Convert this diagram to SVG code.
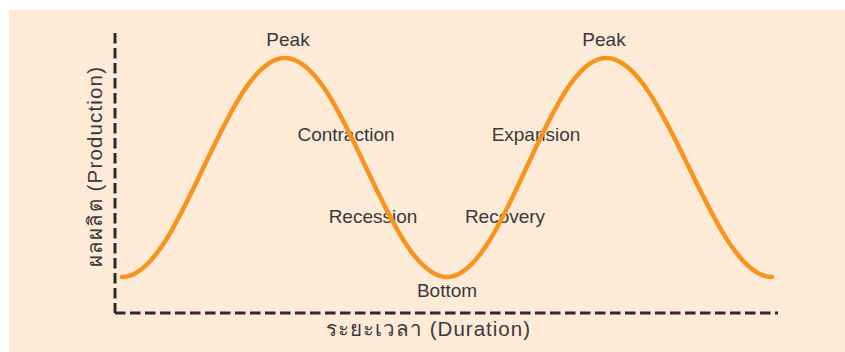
<svg xmlns="http://www.w3.org/2000/svg" width="845" height="352" viewBox="0 0 845 352">
  <style>
    .lbl { font-family: "Liberation Sans", "Noto Sans", sans-serif; font-size: 19px; fill: #3a3a3a; text-anchor: middle; }
    .ax { font-size: 20.5px; }
    .axis { stroke: #2b2b2b; stroke-width: 3; stroke-dasharray: 10.5 4.5; fill: none; }
    .curve { stroke: #F7941D; stroke-width: 4.5; fill: none; stroke-linecap: round; }
  </style>
  <rect x="0" y="0" width="845" height="352" fill="#ffffff"/>
  <rect x="9" y="10" width="836" height="342" fill="#FDEBD8"/>
  <g id="axes">
    <line class="axis" x1="115" y1="33" x2="115" y2="313"/>
    <line class="axis" x1="115" y1="313" x2="778" y2="313"/>
  </g>
  <g id="axis-labels">
    <text class="lbl ax" x="428" y="336" textLength="204">ระยะเวลา (Duration)</text>
    <text class="lbl ax" transform="translate(102,167) rotate(-90)" x="0" y="0" textLength="200">ผลผลิต (Production)</text>
  </g>
  <g id="peak1"><text class="lbl" x="288" y="46">Peak</text></g>
  <g id="peak2"><text class="lbl" x="604" y="46">Peak</text></g>
  <g id="contraction"><text class="lbl" x="346" y="141">Contraction</text></g>
  <g id="expansion"><text class="lbl" x="536" y="141">Expansion</text></g>
  <g id="recession"><text class="lbl" x="373" y="223">Recession</text></g>
  <g id="recovery"><text class="lbl" x="505" y="223">Recovery</text></g>
  <g id="bottom"><text class="lbl" x="447" y="297">Bottom</text></g>
  <g id="connectors">
    <path class="curve" d="M122,277 C181.3,277 225.7,58 285,58 C344,58 388,277 447,277 C504.9,277 548.1,58 606,58 C666.4,58 711.6,277 772,277"/>
  </g>
</svg>
